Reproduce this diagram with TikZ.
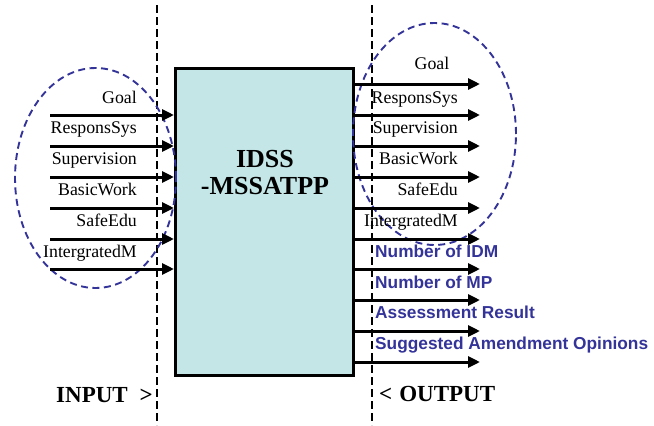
\documentclass[tikz,border=0pt]{standalone}
\usepackage{fontspec}
\setmainfont{Liberation Serif}
\newfontfamily\lsans{Liberation Sans}
\usetikzlibrary{arrows.meta}
\definecolor{grpblue}{RGB}{51,51,153}
\definecolor{boxfill}{RGB}{196,230,230}
\begin{document}
\begin{tikzpicture}[x=1pt,y=-1pt,
  flow/.style={line width=3pt,-{Triangle[length=12pt,width=11pt]}},
  divider/.style={line width=2pt,dash pattern=on 8pt off 4pt},
  group/.style={draw=grpblue,line width=1.9pt,dash pattern=on 7pt off 4.5pt},
  sysbox/.style={draw,line width=3pt,fill=boxfill,minimum width=178pt,minimum height=307pt,inner sep=0pt},
  title/.style={font=\bfseries\fontsize{26}{28}\selectfont,anchor=base,inner sep=0pt},
  lab/.style={font=\fontsize{17.8}{20}\selectfont,anchor=base east,inner sep=0pt},
  outlab/.style={font=\lsans\bfseries\fontsize{17.3}{20}\selectfont,text=grpblue,anchor=base west,inner sep=0pt},
  io/.style={font=\bfseries\fontsize{23}{25}\selectfont,anchor=base west,inner sep=0pt}]
\useasboundingbox (0,0) rectangle (654,426);

% dividers
\coordinate (dl1) at (157,5); \coordinate (dl2) at (157,425);
\coordinate (dr1) at (372,5); \coordinate (dr2) at (372,425);
\draw[divider] (dl1) -- (dl2);
\draw[divider] (dr1) -- (dr2);

% system box
\node[sysbox] (sys) at (264.5,222) {};
\node[title] (t1) at (265,167) {IDSS};
\node[title] (t2) at (265,194) {-MSSATPP};

% groups
\draw[group] (95.5,178) ellipse [x radius=80.5pt, y radius=110pt];
\draw[group] (434.5,134) ellipse [x radius=81.5pt, y radius=111pt];

% inputs
\foreach \i/\y in {1/115,2/146,3/177,4/208,5/239,6/269}{
  \coordinate (in\i) at (50,\y);
  \draw[flow] (in\i) -- (in\i -| sys.west);
}
\node[lab] (li1) at (137,103) {Goal};
\node[lab] (li2) at (137,133) {ResponsSys};
\node[lab] (li3) at (137,164) {Supervision};
\node[lab] (li4) at (137,195) {BasicWork};
\node[lab] (li5) at (137,226) {SafeEdu};
\node[lab] (li6) at (137,257) {IntergratedM};

% outputs
\foreach \i/\y in {1/84,2/115,3/146,4/177,5/208,6/239,7/269,8/300,9/331,10/362}{
  \coordinate (out\i) at (480,\y);
  \draw[flow] (out\i -| sys.east) -- (out\i);
}
\node[lab,anchor=base] (lo1) at (432,69) {Goal};
\node[lab] (lo2) at (458,103) {ResponsSys};
\node[lab] (lo3) at (458,133) {Supervision};
\node[lab] (lo4) at (458,164) {BasicWork};
\node[lab] (lo5) at (458,195) {SafeEdu};
\node[lab] (lo6) at (458,226) {IntergratedM};
\node[outlab] (lo7) at (375,257) {Number of IDM};
\node[outlab] (lo8) at (375,288) {Number of MP};
\node[outlab] (lo9) at (375,318) {Assessment Result};
\node[outlab] (lo10) at (375,349) {Suggested Amendment Opinions};

% io labels
\node[io] (inp) at (56,402) {INPUT\hspace{12pt}>};
\node[io] (outp) at (379,401) {<\hspace{7pt}OUTPUT};
\end{tikzpicture}
\end{document}
